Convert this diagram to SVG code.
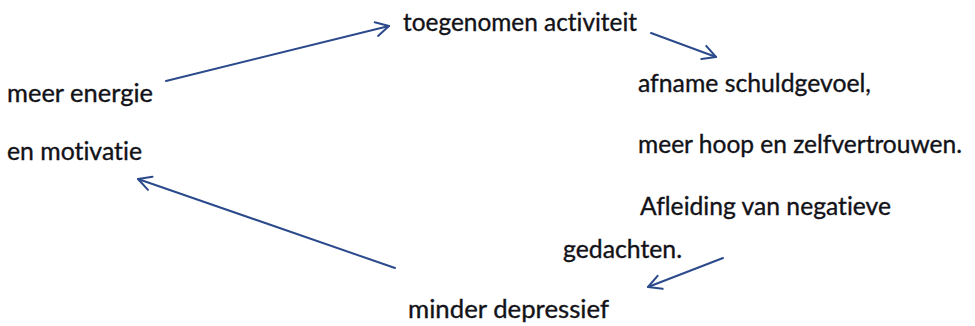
<svg xmlns="http://www.w3.org/2000/svg" width="975" height="326" viewBox="0 0 975 326">
  <style>
    .label { font-family: Lato, "Open Sans", "Liberation Sans", sans-serif; font-size: 25px; font-variant-ligatures: none; fill: #121218; stroke: #121218; stroke-width: 0.35px; }
    .link { fill: none; stroke: #2b4a8c; stroke-width: 2; stroke-linecap: round; }
  </style>
  <defs>
    <marker id="open-head" markerUnits="userSpaceOnUse" markerWidth="20" markerHeight="20" viewBox="-16 -10 20 20" refX="0" refY="0" orient="auto">
      <path d="M -13 -7 L 0 0 L -13 7" fill="none" stroke="#2b4a8c" stroke-width="2" stroke-linecap="round" stroke-linejoin="round"/>
    </marker>
  </defs>
  <rect width="975" height="326" fill="#ffffff"/>

  <g id="node-energie">
    <text class="label" x="7" y="102" textLength="146" lengthAdjust="spacingAndGlyphs">meer energie</text>
    <text class="label" x="7" y="160" textLength="135" lengthAdjust="spacingAndGlyphs">en motivatie</text>
  </g>
  <g id="node-activiteit">
    <text class="label" x="403" y="31" textLength="234" lengthAdjust="spacingAndGlyphs">toegenomen activiteit</text>
  </g>
  <g id="node-gevoel">
    <text class="label" x="638" y="92" textLength="233" lengthAdjust="spacingAndGlyphs">afname schuldgevoel,</text>
    <text class="label" x="638" y="153" textLength="324" lengthAdjust="spacingAndGlyphs">meer hoop en zelfvertrouwen.</text>
    <text class="label" x="640" y="215" textLength="251" lengthAdjust="spacingAndGlyphs">Afleiding van negatieve</text>
    <text class="label" x="563" y="258" textLength="119" lengthAdjust="spacingAndGlyphs">gedachten.</text>
  </g>
  <g id="node-depressief">
    <text class="label" x="408" y="318" textLength="201" lengthAdjust="spacingAndGlyphs">minder depressief</text>
  </g>

  <g id="connectors">
    <line class="link" x1="166" y1="81" x2="389" y2="26" marker-end="url(#open-head)"/>
    <line class="link" x1="651" y1="33" x2="716" y2="57" marker-end="url(#open-head)"/>
    <line class="link" x1="723" y1="258" x2="648" y2="287" marker-end="url(#open-head)"/>
    <line class="link" x1="395" y1="268" x2="138" y2="179" marker-end="url(#open-head)"/>
  </g>
</svg>
